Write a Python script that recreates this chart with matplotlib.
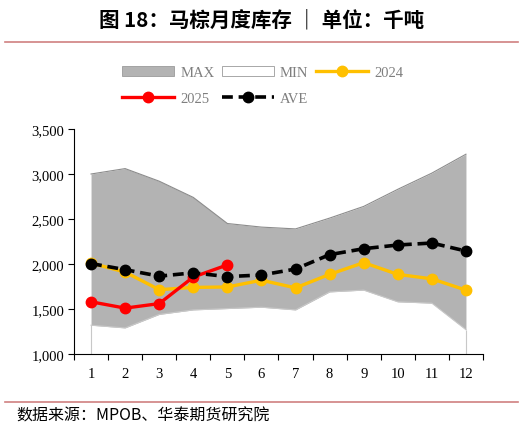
import matplotlib
matplotlib.use("Agg")
import matplotlib.pyplot as plt
from matplotlib.patches import Patch
from matplotlib.lines import Line2D

months = [str(m) for m in range(1, 13)]
max_vals = [3000, 3060, 2920, 2740, 2450, 2410, 2390, 2510, 2640, 2830, 3010, 3220]
min_vals = [1320, 1290, 1440, 1490, 1505, 1520, 1490, 1690, 1710, 1580, 1565, 1270]
y2024 = [2010, 1910, 1715, 1740, 1745, 1820, 1735, 1885, 2015, 1885, 1835, 1710]
y2025 = [1580, 1510, 1560, 1855, 1990]
ave = [2005, 1937, 1865, 1902, 1860, 1878, 1944, 2104, 2170, 2211, 2233, 2144]

cjk = ['Noto Sans CJK SC', 'DejaVu Sans']
serif = 'Liberation Serif'

fig = plt.figure(figsize=(5.23, 4.31), dpi=100)
ax = fig.add_axes([0.1415, 0.1763, 0.782, 0.5221])

x = list(range(1, 13))
# band between min and max
ax.fill_between(x, min_vals, max_vals, color='#b3b3b3', lw=0, zorder=1)
ax.plot(x, max_vals, color='#8c8c8c', lw=0.8, zorder=1.5)
ax.plot(x, min_vals, color='#c8c8c8', lw=0.8, zorder=1.5)
ax.vlines([1, 12], 1000, [min_vals[0], min_vals[-1]], color='#c8c8c8', lw=0.8, zorder=1.5)

ax.plot(x, y2024, color='#FFC000', lw=2.4, marker='o', ms=7.5, zorder=3)
ax.plot(x[:len(y2025)], y2025, color='#FF0000', lw=2.4, marker='o', ms=7.5, zorder=4)
ax.plot(x, ave, color='black', lw=2.6, ls=(0, (3, 1.6)), marker='o', ms=7.5, zorder=5)

ax.set_xlim(0.5, 12.5)
ax.set_ylim(1000, 3500)
ax.set_yticks(range(1000, 3501, 500))
ax.set_yticklabels(['{:,}'.format(v) for v in range(1000, 3501, 500)], fontfamily=serif, fontsize=10.5)
ax.set_xticks(x)
ax.set_xticklabels(months, fontfamily=serif, fontsize=10.5)
ax.set_xticks([k + 0.5 for k in range(0, 13)], minor=True)
ax.tick_params(axis='x', which='major', length=0, pad=9)
ax.tick_params(axis='x', which='minor', length=4, width=0.8, direction='out')
ax.tick_params(axis='y', length=4, width=0.8, direction='out', pad=3)
for s in ['top', 'right']:
    ax.spines[s].set_visible(False)
for s in ['left', 'bottom']:
    ax.spines[s].set_linewidth(0.8)

handles = [
    Patch(facecolor='#b3b3b3', edgecolor='#9a9a9a', lw=0.6),
    Line2D([], [], color='#FF0000', lw=2.4, marker='o', ms=7.5),
    Patch(facecolor='white', edgecolor='#9a9a9a', lw=0.6),
    Line2D([], [], color='black', lw=2.6, ls=(0, (3, 1.6)), marker='o', ms=7.5),
    Line2D([], [], color='#FFC000', lw=2.4, marker='o', ms=7.5),
]
labels = ['MAX', '2025', 'MIN', 'AVE', '2024']
leg = fig.legend(handles, labels, ncol=3, loc='center', bbox_to_anchor=(0.502, 0.80),
                 frameon=False, prop={'family': serif, 'size': 10.5},
                 handlelength=3.6, handleheight=0.7, columnspacing=0.5,
                 handletextpad=0.4, labelspacing=0.85)
for t in leg.get_texts():
    t.set_color('#7f7f7f')

fig.text(0.5, 0.953, '图 18：马棕月度库存 ｜ 单位：千吨', ha='center', va='center',
         fontsize=14.8, fontweight='bold', family=cjk)
fig.add_artist(Line2D([0.01, 0.99], [0.9, 0.9], color='#d08080', lw=1.2))
fig.add_artist(Line2D([0.01, 0.99], [0.065, 0.065], color='#d08080', lw=1.2))
fig.text(0.031, 0.035, '数据来源：MPOB、华泰期货研究院', ha='left', va='center',
         fontsize=11.5, family=cjk)

fig.savefig('out.png', dpi=100)
